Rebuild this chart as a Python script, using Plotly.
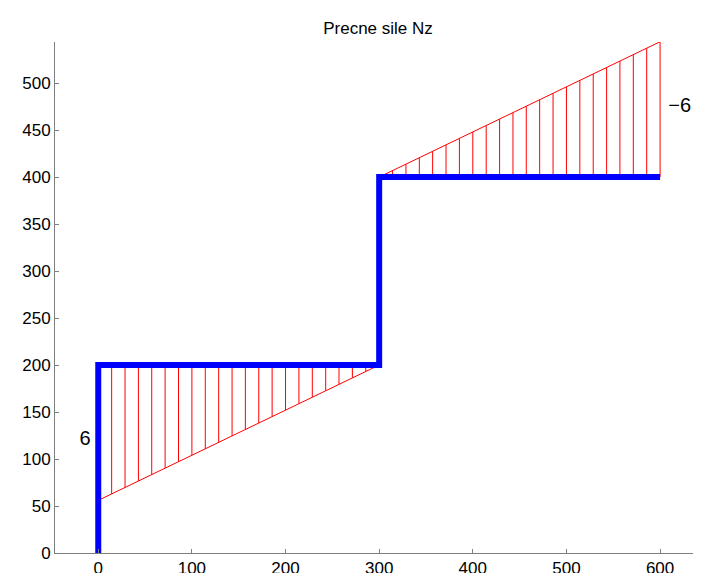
import plotly.graph_objects as go

# Beam axis (blue step line)
beam_x = [0, 0, 300, 300, 600]
beam_y = [0, 200, 200, 400, 400]

# Shear diagram, segment 1 (hatch positions and diagram values)
seg1_x = [0, 14.3, 28.6, 42.9, 57.1, 71.4, 85.7, 100, 114.3, 128.6, 142.9,
          157.1, 171.4, 185.7, 200, 214.3, 228.6, 242.9, 257.1, 271.4, 285.7, 300]
seg1_y = [56, 62.9, 69.7, 76.6, 83.4, 90.3, 97.1, 104, 110.9, 117.7, 124.6,
          131.4, 138.3, 145.1, 152, 158.9, 165.7, 172.6, 179.4, 186.3, 193.1, 200]
seg1_base = 200

# Shear diagram, segment 2
seg2_x = [300, 314.3, 328.6, 342.9, 357.1, 371.4, 385.7, 400, 414.3, 428.6, 442.9,
          457.1, 471.4, 485.7, 500, 514.3, 528.6, 542.9, 557.1, 571.4, 585.7, 600]
seg2_y = [400, 406.9, 413.7, 420.6, 427.4, 434.3, 441.1, 448, 454.9, 461.7, 468.6,
          475.4, 482.3, 489.1, 496, 502.9, 509.7, 516.6, 523.4, 530.3, 537.1, 544]
seg2_base = 400

# Value labels
label_text = ["6", "\u22126"]
label_x = [-14, 621]
label_y = [120, 475]

x_ticks = [0, 100, 200, 300, 400, 500, 600]
y_ticks = [0, 50, 100, 150, 200, 250, 300, 350, 400, 450, 500]

fig = go.Figure()

def hatch(xs, ys, base):
    hx, hy = [], []
    for x, y in zip(xs, ys):
        hx += [x, x, None]
        hy += [base, y, None]
    return hx, hy

for xs, ys, base in [(seg1_x, seg1_y, seg1_base), (seg2_x, seg2_y, seg2_base)]:
    hx, hy = hatch(xs, ys, base)
    fig.add_trace(go.Scatter(x=hx, y=hy, mode="lines",
                             line=dict(color="red", width=1), hoverinfo="skip"))
    fig.add_trace(go.Scatter(x=xs, y=ys, mode="lines",
                             line=dict(color="red", width=1), hoverinfo="skip"))

fig.add_trace(go.Scatter(x=beam_x, y=beam_y, mode="lines",
                         line=dict(color="#0000ff", width=6)))

fig.add_trace(go.Scatter(x=label_x, y=label_y, mode="text", text=label_text,
                         textfont=dict(family="Liberation Sans", size=20, color="black"),
                         textposition="middle center"))

fig.update_layout(
    width=693, height=565,
    margin=dict(l=47, r=0, t=34, b=20),
    paper_bgcolor="white", plot_bgcolor="white",
    showlegend=False,
    title=dict(text="Precne sile Nz", xref="paper", x=0.5, xanchor="center",
               y=1 - 20 / 565, yanchor="middle",
               font=dict(family="Liberation Sans", size=17, color="black")),
    font=dict(family="Liberation Sans", size=17, color="black"),
)
fig.update_xaxes(range=[-46.2, 643.7], tickvals=x_ticks, ticks="inside", ticklen=4,
                 tickcolor="#7f7f7f", showline=True, linecolor="#7f7f7f", linewidth=1,
                 showgrid=False, zeroline=False, automargin=False,
                 tickfont=dict(family="Liberation Sans", size=17, color="black"))
fig.update_yaxes(range=[0, 543.7], tickvals=y_ticks, ticks="inside", ticklen=4,
                 tickcolor="#7f7f7f", showline=True, linecolor="#7f7f7f", linewidth=1,
                 showgrid=False, zeroline=False, automargin=False,
                 tickfont=dict(family="Liberation Sans", size=17, color="black"))

fig.write_html("out.html")
